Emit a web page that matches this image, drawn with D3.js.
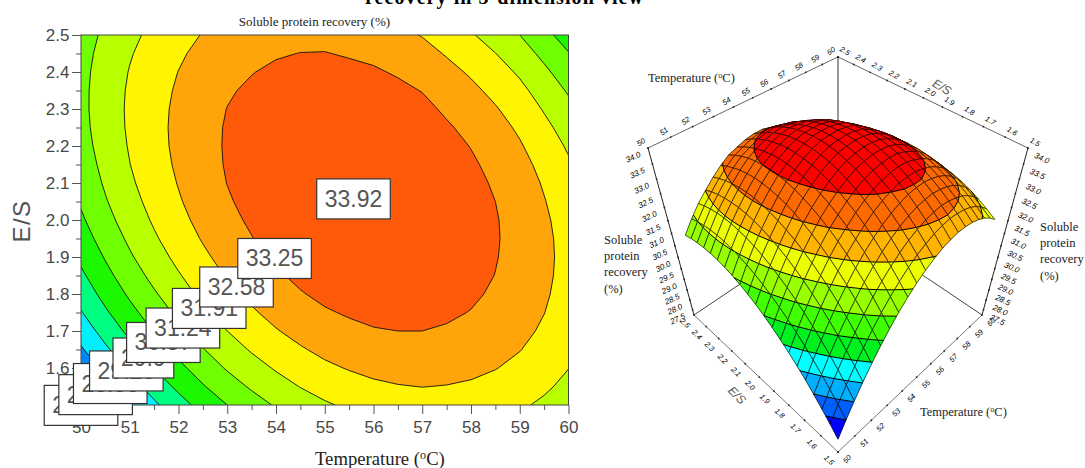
<!DOCTYPE html>
<html>
<head>
<meta charset="utf-8">
<script src="https://cdn.jsdelivr.net/npm/d3@7"></script>
<style>
  html, body { margin: 0; background: #fff; }
  svg { display: block; }
</style>
</head>
<body>
<div id="chart"></div>
<script>
// grid of the response surface, rows = E/S (1.5 up to 2.5), columns = temperature (50 to 60)
const temperatures = d3.range(0, 21).map(i => 50 + i * 0.5)
const esRatios = d3.range(0, 21).map(j => 1.5 + j * 0.05)
const recovery = [
  [27.21,27.89,28.52,29.11,29.64,30.13,30.57,30.96,31.30,31.59,31.83,32.02,32.17,32.26,32.31,32.30,32.25,32.15,32.00,31.80,31.55],
  [27.66,28.33,28.95,29.52,30.04,30.52,30.95,31.32,31.65,31.93,32.16,32.33,32.47,32.55,32.59,32.56,32.50,32.39,32.23,32.01,31.75],
  [28.08,28.74,29.35,29.91,30.41,30.88,31.30,31.66,31.97,32.24,32.46,32.62,32.74,32.81,32.84,32.80,32.72,32.60,32.43,32.20,31.92],
  [28.48,29.12,29.72,30.27,30.76,31.21,31.62,31.97,32.27,32.52,32.73,32.88,32.99,33.04,33.06,33.01,32.92,32.78,32.60,32.36,32.07],
  [28.85,29.48,30.06,30.60,31.08,31.52,31.91,32.25,32.54,32.78,32.97,33.11,33.21,33.25,33.25,33.19,33.09,32.94,32.74,32.49,32.19],
  [29.19,29.81,30.38,30.90,31.37,31.80,32.18,32.50,32.78,33.01,33.19,33.31,33.40,33.43,33.42,33.34,33.23,33.07,32.86,32.59,32.28],
  [29.50,30.11,30.67,31.17,31.63,32.05,32.42,32.72,32.99,33.21,33.38,33.48,33.56,33.58,33.56,33.46,33.34,33.17,32.95,32.66,32.34],
  [29.78,30.38,30.93,31.42,31.86,32.27,32.63,32.92,33.17,33.38,33.54,33.63,33.69,33.70,33.67,33.56,33.42,33.24,33.01,32.71,32.37],
  [30.04,30.62,31.16,31.64,32.07,32.46,32.81,33.09,33.33,33.52,33.67,33.75,33.80,33.79,33.75,33.63,33.48,33.28,33.04,32.73,32.38],
  [30.27,30.84,31.36,31.83,32.25,32.63,32.96,33.23,33.46,33.64,33.77,33.84,33.88,33.86,33.80,33.67,33.51,33.30,33.04,32.72,32.36],
  [30.47,31.03,31.54,31.99,32.40,32.77,33.09,33.34,33.56,33.73,33.85,33.90,33.93,33.90,33.83,33.68,33.51,33.29,33.02,32.68,32.31],
  [30.64,31.19,31.69,32.12,32.52,32.88,33.19,33.42,33.63,33.79,33.90,33.93,33.95,33.91,33.83,33.66,33.48,33.25,32.97,32.61,32.23],
  [30.78,31.32,31.81,32.23,32.61,32.96,33.26,33.48,33.67,33.82,33.92,33.94,33.94,33.89,33.80,33.62,33.42,33.18,32.89,32.52,32.12],
  [30.90,31.42,31.90,32.31,32.68,33.01,33.30,33.51,33.69,33.82,33.91,33.92,33.91,33.84,33.74,33.55,33.34,33.08,32.78,32.40,31.99],
  [30.99,31.50,31.96,32.36,32.72,33.04,33.31,33.51,33.68,33.80,33.87,33.87,33.85,33.77,33.65,33.45,33.23,32.96,32.64,32.25,31.83],
  [31.05,31.55,32.00,32.38,32.73,33.04,33.30,33.48,33.64,33.75,33.81,33.79,33.76,33.67,33.54,33.32,33.09,32.81,32.48,32.07,31.64],
  [31.08,31.57,32.01,32.37,32.71,33.01,33.26,33.42,33.57,33.67,33.72,33.68,33.64,33.54,33.40,33.16,32.92,32.63,32.29,31.86,31.42],
  [31.08,31.56,31.99,32.34,32.66,32.95,33.19,33.34,33.47,33.56,33.60,33.55,33.49,33.38,33.23,32.98,32.72,32.42,32.07,31.63,31.17],
  [31.06,31.52,31.94,32.28,32.59,32.86,33.09,33.23,33.35,33.42,33.45,33.39,33.32,33.19,33.03,32.77,32.50,32.18,31.82,31.37,30.90],
  [31.01,31.46,31.86,32.19,32.49,32.75,32.96,33.09,33.20,33.26,33.27,33.20,33.12,32.98,32.80,32.53,32.25,31.92,31.54,31.08,30.60],
  [30.93,31.37,31.76,32.07,32.36,32.61,32.81,32.92,33.02,33.07,33.07,32.98,32.89,32.74,32.55,32.26,31.97,31.63,31.24,30.76,30.27]
]

// contour levels of the flat plot and the labelled points on them
const contourLevels = [27.89, 28.56, 29.23, 29.90, 30.57, 31.24, 31.91, 32.58, 33.25]
const contourColors = ["#0088ff", "#00f0ff", "#00ff80", "#1cf800", "#70ff00", "#b8ff00", "#fff500", "#ffa50a", "#ff5a0a"]
const belowColor = "#0040ff"
const labelTexts = ["27.22", "27.89", "28.56", "29.23", "29.9", "30.57", "31.24", "31.91", "32.58", "33.25", "33.92"]
const labelTemps = [50.0, 50.3, 50.6, 50.93, 51.28, 51.69, 52.09, 52.63, 53.19, 53.97, 55.59]
const labelRatios = [1.499, 1.528, 1.558, 1.592, 1.627, 1.669, 1.708, 1.761, 1.819, 1.896, 2.057]

// colour bands of the 3D view
const surfaceLevels = [27.89, 28.49, 29.08, 29.68, 30.27, 30.87, 31.47, 32.06, 32.66, 33.3]
const surfaceColors = ["#0000ff", "#0060ff", "#00b0ff", "#00ffff", "#00f020", "#40ff00", "#98ff00", "#ecff00", "#ffb400", "#ff6a00", "#ff0000"]

const tempMajor = d3.range(50, 61)
const tempMinor = d3.range(50.5, 60, 1)
const ratioMajor = d3.range(15, 26).map(d => d / 10)
const ratioMinor = d3.range(155, 250, 10).map(d => d / 100)
const recoveryTicks = d3.range(55, 69).map(d => d / 2)

const width = 1085
const height = 468
const plot = { left: 81, right: 568.5, top: 35, bottom: 405 }

const svg = d3.select("#chart").append("svg")
  .attr("width", width)
  .attr("height", height)
  .attr("viewBox", `0 0 ${width} ${height}`)

const serif = "'Liberation Serif', serif"
const sans = "'Liberation Sans', sans-serif"

// ---- top texts
svg.append("text")
  .attr("x", 504).attr("y", 4)
  .attr("text-anchor", "middle")
  .attr("font-family", serif).attr("font-size", 20).attr("font-weight", "bold")
  .attr("textLength", 278)
  .text("recovery in 3-dimension view")

svg.append("text")
  .attr("x", 314.5).attr("y", 26)
  .attr("text-anchor", "middle")
  .attr("font-family", serif).attr("font-size", 13)
  .attr("fill", "#222")
  .text("Soluble protein recovery (%)")

// ---- contour plot
const x = d3.scaleLinear().domain([50, 60]).range([plot.left, plot.right])
const y = d3.scaleLinear().domain([1.5, 2.5]).range([plot.bottom, plot.top])

svg.append("clipPath").attr("id", "plot-clip")
  .append("rect")
  .attr("x", plot.left).attr("y", plot.top)
  .attr("width", plot.right - plot.left).attr("height", plot.bottom - plot.top)

const contourGroup = svg.append("g").attr("clip-path", "url(#plot-clip)")

contourGroup.append("rect")
  .attr("x", plot.left).attr("y", plot.top)
  .attr("width", plot.right - plot.left).attr("height", plot.bottom - plot.top)
  .attr("fill", belowColor)

const contourData = d3.contours()
  .size([temperatures.length, esRatios.length])
  .thresholds(contourLevels)(recovery.flat())

// d3.contours puts grid value i at i + 0.5
const gridToPlot = d3.geoTransform({
  point(cx, cy) {
    this.stream.point(x(50 + (cx - 0.5) * 0.5), y(1.5 + (cy - 0.5) * 0.05))
  }
})

contourGroup.selectAll("path")
  .data(contourData)
  .join("path")
  .attr("d", d3.geoPath(gridToPlot))
  .attr("fill", (d, i) => contourColors[i])
  .attr("stroke", "#111")
  .attr("stroke-width", 0.9)

const styleAxis = (g, size) => {
  g.select(".domain").remove()
  g.selectAll("line").attr("stroke", "#555")
  g.selectAll("text")
    .attr("font-family", sans).attr("font-size", size)
    .attr("fill", "#484848")
}

svg.append("g")
  .attr("transform", `translate(0,${plot.bottom})`)
  .call(d3.axisBottom(x).tickValues(tempMinor).tickSize(5).tickFormat(""))
  .call(styleAxis, 17)
svg.append("g")
  .attr("transform", `translate(0,${plot.bottom})`)
  .call(d3.axisBottom(x).tickValues(tempMajor).tickSize(9).tickPadding(6.5).tickFormat(d3.format("d")))
  .call(styleAxis, 17)
svg.append("g")
  .attr("transform", `translate(${plot.left},0)`)
  .call(d3.axisLeft(y).tickValues(ratioMinor).tickSize(5).tickFormat(""))
  .call(styleAxis, 17)
svg.append("g")
  .attr("transform", `translate(${plot.left},0)`)
  .call(d3.axisLeft(y).tickValues(ratioMajor).tickSize(9).tickPadding(2.5).tickFormat(d3.format(".1f")))
  .call(styleAxis, 17)

svg.append("rect")
  .attr("x", plot.left).attr("y", plot.top)
  .attr("width", plot.right - plot.left).attr("height", plot.bottom - plot.top)
  .attr("fill", "none").attr("stroke", "#444").attr("stroke-width", 1)

svg.append("text")
  .attr("transform", "translate(30,221) rotate(-90)")
  .attr("text-anchor", "middle")
  .attr("font-family", sans).attr("font-size", 24).attr("fill", "#555")
  .attr("letter-spacing", 1.5)
  .text("E/S")

const tempTitle = (sel, size) => {
  sel.attr("font-family", serif).attr("font-size", size).attr("fill", "#222")
  sel.append("tspan").text("Temperature (")
  sel.append("tspan").attr("font-size", size * 0.65).attr("dy", -size * 0.3).text("o")
  sel.append("tspan").attr("dy", size * 0.3).text("C)")
}
svg.append("text").attr("x", 315).attr("y", 465).call(tempTitle, 18.7)

// boxed labels, lowest first so the higher ones sit on top
const labelGroups = svg.append("g")
  .selectAll("g")
  .data(labelTexts)
  .join("g")
  .attr("transform", (d, i) => `translate(${x(labelTemps[i])},${y(labelRatios[i])})`)

labelGroups.append("rect")
labelGroups.append("text")
  .attr("text-anchor", "middle")
  .attr("dy", 8)
  .attr("font-family", sans).attr("font-size", 23).attr("fill", "#555")
  .text(d => d)
labelGroups.each(function() {
  const w = this.querySelector("text").getComputedTextLength() + 16
  d3.select(this).select("rect")
    .attr("x", -w / 2).attr("y", -20)
    .attr("width", w).attr("height", 40)
    .attr("fill", "#fff").attr("stroke", "#333").attr("stroke-width", 1.2)
})

// ---- 3D view, a pinhole projection set up from the frame corners
const uScale = d3.scaleLinear().domain([50, 60]).range([-1, 1])
const vScale = d3.scaleLinear().domain([1.5, 2.5]).range([-1, 1])
const wScale = d3.scaleLinear().domain([27.22, 34]).range([0, 1])
const surfaceInset = 0.92

const depthOf = (t, e) => (uScale(t) + vScale(e)) / 2

const project = (t, e, z, k = 1) => {
  const s = (uScale(t) - vScale(e)) / 2 * k
  const d = depthOf(t, e) * k
  const D = 1 + 0.172 * d - 0.242 * wScale(z)
  return [838 + 144 * s / D, 838 - (523 + 203.4 * d) / D]
}

const line = d3.line()
const frame = svg.append("g").attr("fill", "none").attr("stroke-width", 1)
const frameEdges = [
  { color: "#444", ends: [[50, 2.5, 27.22], [60, 2.5, 27.22]] },
  { color: "#444", ends: [[60, 1.5, 27.22], [60, 2.5, 27.22]] },
  { color: "#333", ends: [[60, 2.5, 27.22], [60, 2.5, 34]] },
  { color: "#666", ends: [[50, 2.5, 34], [60, 2.5, 34]] },
  { color: "#666", ends: [[60, 2.5, 34], [60, 1.5, 34]] },
  { color: "#222", ends: [[50, 2.5, 27.22], [50, 2.5, 34]] },
  { color: "#222", ends: [[60, 1.5, 27.22], [60, 1.5, 34]] },
  { color: "#777", ends: [[50, 2.5, 27.22], [50, 1.5, 27.22]] },
  { color: "#777", ends: [[50, 1.5, 27.22], [60, 1.5, 27.22]] }
]
frame.selectAll("path")
  .data(frameEdges)
  .join("path")
  .attr("stroke", d => d.color)
  .attr("d", d => line(d.ends.map(p => project(...p))))

// surface cells, far ones first, each cut along the colour bands
const clipAbove = (poly, level, keepAbove) => {
  const out = []
  poly.forEach((a, i) => {
    const b = poly[(i + 1) % poly.length]
    const aIn = keepAbove ? a[2] >= level : a[2] <= level
    const bIn = keepAbove ? b[2] >= level : b[2] <= level
    if (aIn) out.push(a)
    if (aIn !== bIn) {
      const f = (level - a[2]) / (b[2] - a[2])
      out.push([a[0] + (b[0] - a[0]) * f, a[1] + (b[1] - a[1]) * f, level])
    }
  })
  return out
}

const toPath = (pts, closed) => line(pts.map(p => project(p[0], p[1], p[2], surfaceInset))) + (closed ? "Z" : "")

const cells = []
d3.range(20).forEach(j => d3.range(20).forEach(i => {
  const poly = [
    [temperatures[i], esRatios[j], recovery[j][i]],
    [temperatures[i + 1], esRatios[j], recovery[j][i + 1]],
    [temperatures[i + 1], esRatios[j + 1], recovery[j + 1][i + 1]],
    [temperatures[i], esRatios[j + 1], recovery[j + 1][i]]
  ]
  const bounds = [-Infinity, ...surfaceLevels, Infinity]
  const pieces = []
  surfaceColors.forEach((color, b) => {
    let part = clipAbove(poly, bounds[b], true)
    if (part.length) part = clipAbove(part, bounds[b + 1], false)
    if (part.length > 2) pieces.push({ color, d: toPath(part, true) })
  })
  const isolines = []
  surfaceLevels.forEach(level => {
    const crossing = []
    poly.forEach((a, n) => {
      const b = poly[(n + 1) % 4]
      if ((a[2] < level) !== (b[2] < level)) {
        const f = (level - a[2]) / (b[2] - a[2])
        crossing.push([a[0] + (b[0] - a[0]) * f, a[1] + (b[1] - a[1]) * f, level])
      }
    })
    if (crossing.length >= 2) isolines.push(toPath(crossing.slice(0, 2), false))
  })
  cells.push({
    depth: depthOf(temperatures[i] + 0.25, esRatios[j] + 0.025),
    outline: toPath(poly, true),
    pieces,
    isolines
  })
}))
cells.sort((a, b) => d3.descending(a.depth, b.depth))

const cellGroups = svg.append("g")
  .selectAll("g")
  .data(cells)
  .join("g")
cellGroups.selectAll(".band")
  .data(d => d.pieces)
  .join("path")
  .attr("class", "band")
  .attr("d", d => d.d)
  .attr("fill", d => d.color)
  .attr("stroke", d => d.color)
  .attr("stroke-width", 0.4)
cellGroups.append("path")
  .attr("d", d => d.outline)
  .attr("fill", "none")
  .attr("stroke", "#000")
  .attr("stroke-opacity", 0.8)
  .attr("stroke-width", 0.8)
cellGroups.selectAll(".iso")
  .data(d => d.isolines)
  .join("path")
  .attr("class", "iso")
  .attr("d", d => d)
  .attr("fill", "none")
  .attr("stroke", "#000")
  .attr("stroke-width", 1)

// ticks and labels of the box
const axes3d = [
  { values: recoveryTicks, at: v => [50, 2.5, v], dx: -15, dy: 9, rotate: -25, size: 8, format: d3.format(".1f") },
  { values: recoveryTicks, at: v => [60, 1.5, v], dx: 14, dy: 10, rotate: 25, size: 8, format: d3.format(".1f") },
  { values: ratioMajor, at: v => [50, v, 27.22], dx: -9, dy: 8, rotate: 45, size: 7.5, format: d3.format(".1f") },
  { values: tempMajor, at: v => [v, 1.5, 27.22], dx: 9, dy: 7, rotate: -45, size: 7.5, format: d3.format("d") },
  { values: tempMajor, at: v => [v, 2.5, 34], dx: -7, dy: -6, rotate: -35, size: 7.5, format: d3.format("d") },
  { values: ratioMajor, at: v => [60, v, 34], dx: 7, dy: -6, rotate: 30, size: 7.5, format: d3.format(".1f") }
]
axes3d.forEach(axis => {
  const g = svg.append("g")
  g.selectAll("circle")
    .data(axis.values)
    .join("circle")
    .attr("cx", d => project(...axis.at(d))[0])
    .attr("cy", d => project(...axis.at(d))[1])
    .attr("r", 0.9)
    .attr("fill", "#222")
  g.selectAll("text")
    .data(axis.values)
    .join("text")
    .attr("transform", d => {
      const [px, py] = project(...axis.at(d))
      return `translate(${px + axis.dx},${py + axis.dy}) rotate(${axis.rotate})`
    })
    .attr("text-anchor", "middle")
    .attr("dy", "0.35em")
    .attr("font-family", sans).attr("font-style", "italic")
    .attr("font-size", axis.size)
    .attr("fill", "#000")
    .text(axis.format)
})

// titles around the 3D view
svg.append("text").attr("x", 648).attr("y", 82).call(tempTitle, 12.5)
svg.append("text").attr("x", 920).attr("y", 416).call(tempTitle, 12.5)

const recoveryWords = ["Soluble", "protein", "recovery", "(%)"]
const wordBlock = (left, top) => svg.append("g")
  .selectAll("text")
  .data(recoveryWords)
  .join("text")
  .attr("x", left)
  .attr("y", (d, i) => top + i * 16.2)
  .attr("font-family", serif).attr("font-size", 12.5).attr("fill", "#222")
  .text(d => d)
wordBlock(604, 244)
wordBlock(1040, 231)

svg.append("text")
  .attr("transform", "translate(942,87) rotate(30)")
  .attr("text-anchor", "middle").attr("dy", "0.35em")
  .attr("font-family", sans).attr("font-style", "italic").attr("font-size", 12).attr("fill", "#555")
  .text("E/S")
svg.append("text")
  .attr("transform", "translate(737,395) rotate(45)")
  .attr("text-anchor", "middle").attr("dy", "0.35em")
  .attr("font-family", sans).attr("font-style", "italic").attr("font-size", 12).attr("fill", "#555")
  .text("E/S")
</script>
</body>
</html>
